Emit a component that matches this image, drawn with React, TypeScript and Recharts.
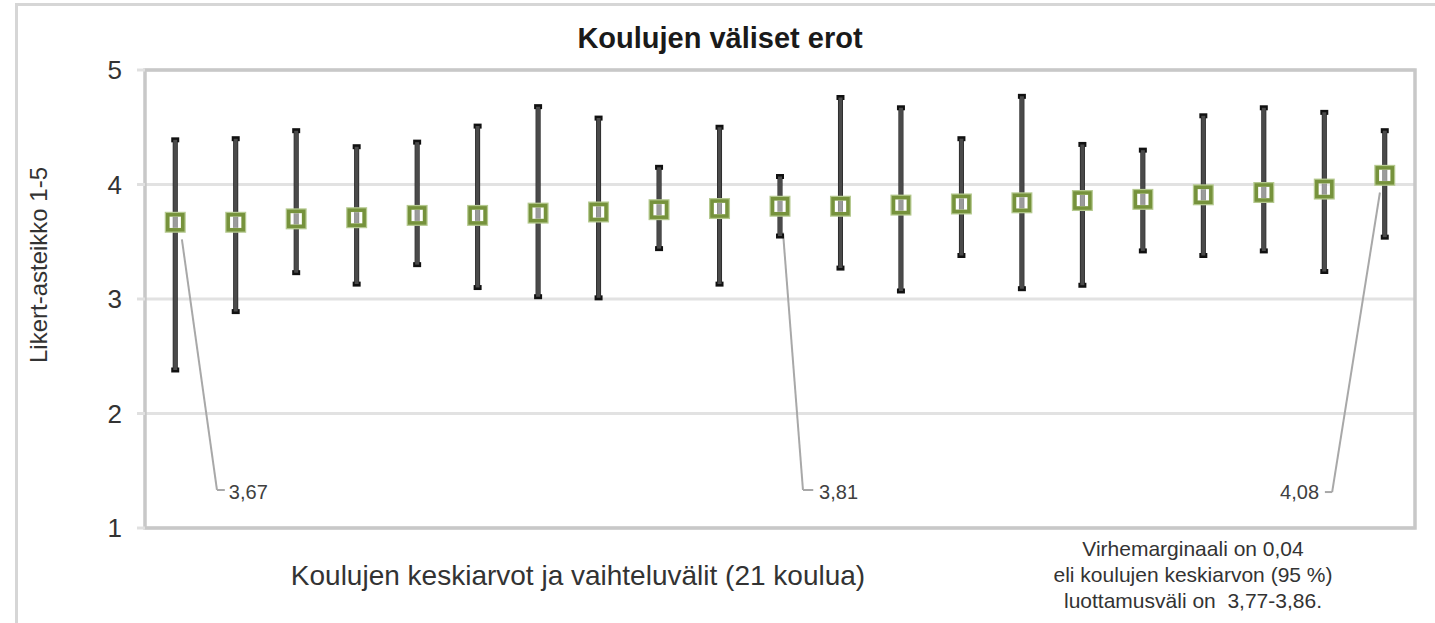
import React from 'react';
import {
  ComposedChart,
  Scatter,
  ErrorBar,
  XAxis,
  YAxis,
  CartesianGrid,
  ReferenceArea,
  ReferenceLine,
  ReferenceDot,
} from 'recharts';

// ---- data ----
const schools = [1, 2, 3, 4, 5, 6, 7, 8, 9, 10, 11, 12, 13, 14, 15, 16, 17, 18, 19, 20, 21];
const means = [3.67, 3.67, 3.7, 3.71, 3.73, 3.73, 3.75, 3.76, 3.78, 3.79, 3.81, 3.81, 3.82, 3.83, 3.84, 3.86, 3.87, 3.91, 3.93, 3.96, 4.08];
const highs = [4.39, 4.4, 4.47, 4.33, 4.37, 4.51, 4.68, 4.58, 4.15, 4.5, 4.07, 4.76, 4.67, 4.4, 4.77, 4.35, 4.3, 4.6, 4.67, 4.63, 4.47];
const lows = [2.38, 2.89, 3.23, 3.13, 3.3, 3.1, 3.02, 3.01, 3.44, 3.13, 3.55, 3.27, 3.07, 3.38, 3.09, 3.12, 3.42, 3.38, 3.42, 3.24, 3.54];
const yTicks = [1, 2, 3, 4, 5];

const titleText = 'Koulujen väliset erot';
const yLabelText = 'Likert-asteikko 1-5';
const xLabelText = 'Koulujen keskiarvot ja vaihteluvälit (21 koulua)';
const noteLines = ['Virhemarginaali on 0,04', 'eli koulujen keskiarvon (95 %)', 'luottamusväli on  3,77-3,86.'];

// annotated schools (index into arrays) and their leader paths in data coordinates
const labelledIdx = [0, 10, 20];
const leaderPaths: number[][][] = [
  [[1.11, 3.52], [1.69, 1.332], [1.82, 1.332]],
  [[11.05, 3.58], [11.38, 1.332], [11.55, 1.332]],
  [[20.92, 3.93], [20.13, 1.314], [20.01, 1.314]],
];
const labelAnchors: [number, number, 'right' | 'left'][] = [
  [1.87, 1.314, 'right'],
  [11.63, 1.314, 'right'],
  [19.93, 1.314, 'left'],
];

const data = schools.map((s, i) => ({
  x: s,
  mean: means[i],
  high: highs[i],
  low: lows[i],
}));

const FONT = '"Liberation Sans", Arial, sans-serif';

const SquareMarker = (props: any) => {
  const { cx, cy } = props;
  if (cx == null || cy == null) return null;
  return (
    <g>
      <rect
        x={cx - 8}
        y={cy - 8}
        width={16}
        height={16}
        fill="none"
        stroke="#b5c98f"
        strokeWidth={5}
      />
      <rect
        x={cx - 7.5}
        y={cy - 7.5}
        width={15}
        height={15}
        fill="rgba(255,255,255,0.45)"
        stroke="#76923c"
        strokeWidth={3.5}
      />
    </g>
  );
};

const fmt = (v: number) => v.toFixed(2).replace('.', ',');

export default function App() {
  return (
    <div
      style={{
        position: 'absolute',
        left: 0,
        top: 0,
        width: 1435,
        height: 623,
        overflow: 'hidden',
        background: '#fff',
        fontFamily: FONT,
      }}
    >
      <div
        style={{
          position: 'absolute',
          left: 15,
          top: 3,
          width: 1500,
          height: 700,
          border: '3px solid #d6d6d6',
          boxSizing: 'border-box',
        }}
      />
      <div style={{ position: 'absolute', left: 0, top: 0 }}>
        <ComposedChart
          width={1435}
          height={623}
          data={data}
          margin={{ top: 70, right: 20, bottom: 95, left: 0 }}
        >
          <CartesianGrid horizontal vertical={false} stroke="#e2e2e2" strokeWidth={3} />
          <XAxis type="number" dataKey="x" domain={[0.5, 21.5]} hide allowDataOverflow />
          <YAxis
            type="number"
            domain={[1, 5]}
            ticks={yTicks}
            interval={0}
            width={145}
            axisLine={false}
            tickLine={{ stroke: '#e0e0e0', strokeWidth: 3 }}
            tickSize={8}
            tickMargin={15}
            tick={{ fontSize: 26, fill: '#333', fontFamily: FONT }}
          />
          <ReferenceArea
            x1={0.5}
            x2={21.5}
            y1={1}
            y2={5}
            fill="none"
            stroke="#c8c8c8"
            strokeWidth={3.5}
            ifOverflow="visible"
          />
          {leaderPaths.map((path, pi) =>
            path.slice(1).map((pt, si) => (
              <ReferenceLine
                key={`leader-${pi}-${si}`}
                segment={[
                  { x: path[si][0], y: path[si][1] },
                  { x: pt[0], y: pt[1] },
                ]}
                stroke="#a8a8a8"
                strokeWidth={2}
                ifOverflow="visible"
              />
            ))
          )}
          {labelAnchors.map(([lx, ly, pos], i) => (
            <ReferenceDot
              key={`lab-${i}`}
              x={lx}
              y={ly}
              r={1}
              fill="none"
              stroke="none"
              ifOverflow="visible"
              label={{
                value: fmt(means[labelledIdx[i]]),
                position: pos,
                offset: 0,
                fill: '#404040',
                fontSize: 20,
                fontFamily: FONT,
              }}
            />
          ))}
          <Scatter
            dataKey="mean"
            fill="#76923c"
            shape={SquareMarker}
            isAnimationActive={false}
          >
            <ErrorBar
              direction="y"
              dataKey={(d: any) => [d.mean - d.low, d.high - d.mean]}
              width={4}
              stroke="#111"
              strokeWidth={5}
              isAnimationActive={false}
            />
            <ErrorBar
              direction="y"
              dataKey={(d: any) => [d.mean - d.low, d.high - d.mean]}
              width={0}
              stroke="#4a4a4a"
              strokeWidth={4}
              isAnimationActive={false}
            />
          </Scatter>
        </ComposedChart>
      </div>
      <svg
        width={1435}
        height={623}
        style={{ position: 'absolute', left: 0, top: 0, pointerEvents: 'none' }}
      >
        <text x={720} y={48} textAnchor="middle" fontSize={29} fontWeight="bold" fill="#1a1a1a" fontFamily={FONT}>
          {titleText}
        </text>
        <text
          transform="translate(47,265) rotate(-90)"
          textAnchor="middle"
          fontSize={24}
          fill="#333"
          fontFamily={FONT}
        >
          {yLabelText}
        </text>
        <text x={578} y={585} textAnchor="middle" fontSize={28} fill="#333" fontFamily={FONT}>
          {xLabelText}
        </text>
        {noteLines.map((line, i) => (
          <text
            key={i}
            x={1193}
            y={556 + i * 26}
            textAnchor="middle"
            fontSize={21}
            fill="#333"
            fontFamily={FONT}
            style={{ whiteSpace: 'pre' }}
          >
            {line}
          </text>
        ))}
      </svg>
    </div>
  );
}
